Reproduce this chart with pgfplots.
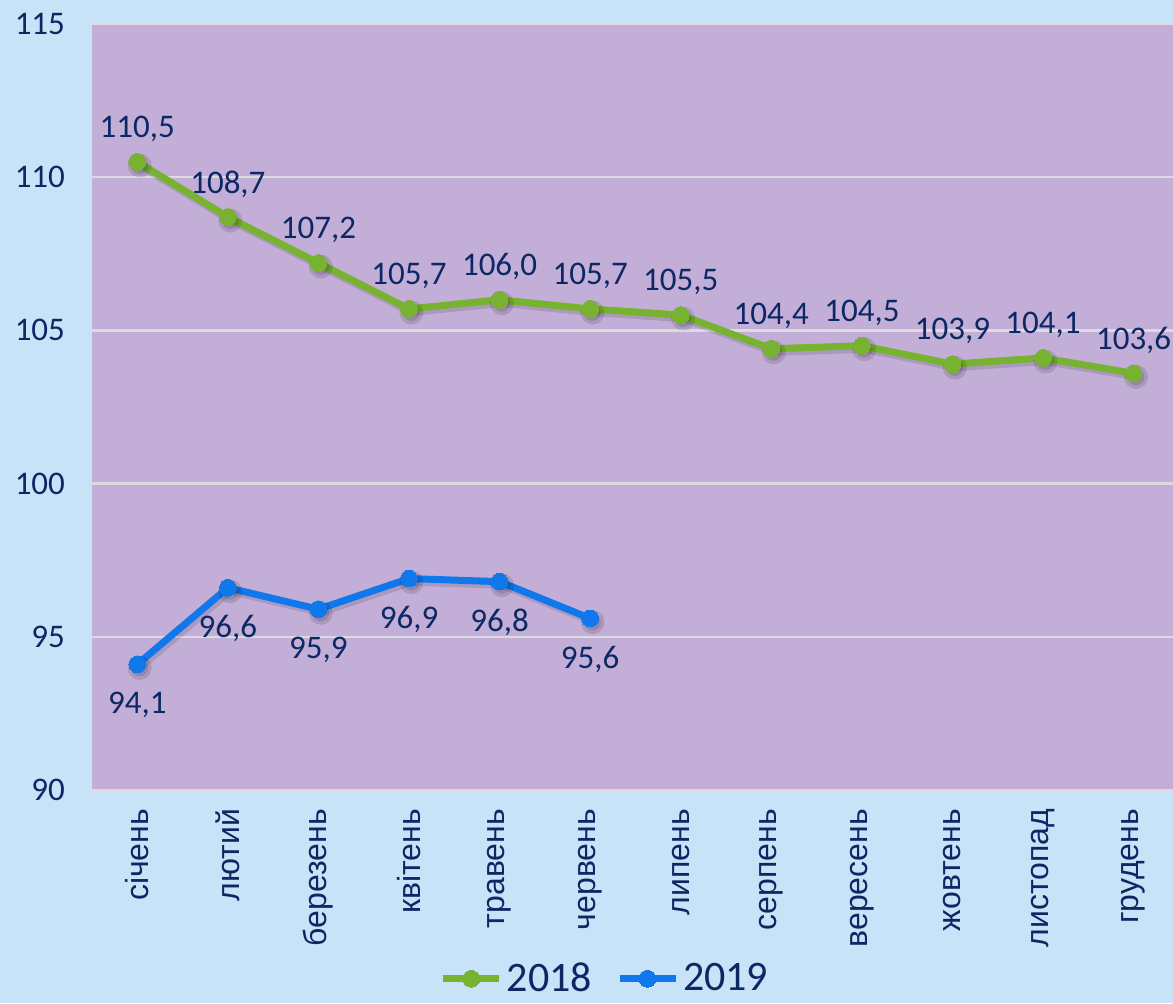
\documentclass[border=0pt]{standalone}
\usepackage{pgfplots}
\pgfplotsset{compat=1.18}
\usepackage{fontspec}
\setmainfont{Carlito}
\newfontfamily\xfont{Liberation Sans}
\definecolor{bgblue}{RGB}{200,226,248}
\definecolor{plotbg}{RGB}{195,174,216}
\definecolor{gr}{RGB}{119,179,48}
\definecolor{bl}{RGB}{16,120,235}
\definecolor{navy}{RGB}{12,40,100}
\definecolor{gridc}{RGB}{220,220,222}
\begin{document}
\begin{tikzpicture}
\fill[bgblue] (0,0) rectangle (586.5pt,501.5pt);
\useasboundingbox (0,0) rectangle (586.5pt,501.5pt);
\begin{axis}[
  at={(46pt,106.5pt)}, anchor=south west,
  scale only axis, width=540.5pt, height=383pt,
  xmin=-0.5, xmax=11.435, ymin=90, ymax=115,
  axis background/.style={fill=plotbg},
  axis line style={draw=none},
  ytick={90,95,100,105,110,115},
  ymajorgrids, major grid style={gridc, line width=1.2pt},
  xtick={0,...,11},
  xticklabels={січень,лютий,березень,квітень,травень,червень,липень,серпень,вересень,жовтень,листопад,грудень},
  x tick label style={rotate=90, anchor=east, font=\xfont\fontsize{16}{18}\selectfont, text=navy},
  y tick label style={font=\fontsize{16.5}{18}\selectfont, text=navy},
  xticklabel shift=6pt, yticklabel shift=10pt,
  major tick length=0pt,
  /pgf/number format/assume math mode=true,
  clip=false,
  nodes near coords={\pgfmathprintnumber[use comma,fixed,fixed zerofill,precision=1]{\pgfplotspointmeta}},
  nodes near coords style={font=\fontsize{16.5}{18}\selectfont, text=navy, anchor=center},
  legend style={at={(0.4755,-0.2465)}, anchor=center, draw=none, fill=none,
    legend columns=2, font=\fontsize{21}{22}\selectfont, text=navy, inner sep=1pt,
    /tikz/every even column/.append style={column sep=10pt}},
  legend image code/.code={\draw[#1, mark repeat=2, mark phase=2] plot coordinates {(0pt,0pt) (14pt,0pt) (28pt,0pt)};},
]
% shadows
\addplot[black, opacity=0.12, line width=3.5pt, mark=*, mark size=4.2pt, shift={(1.2pt,-1.8pt)}, nodes near coords={}, forget plot]
 coordinates {(0,110.5)(1,108.7)(2,107.2)(3,105.7)(4,106.0)(5,105.7)(6,105.5)(7,104.4)(8,104.5)(9,103.9)(10,104.1)(11,103.6)};
\addplot[black, opacity=0.12, line width=3.5pt, mark=*, mark size=4.2pt, shift={(1.2pt,-1.8pt)}, nodes near coords={}, forget plot]
 coordinates {(0,94.1)(1,96.6)(2,95.9)(3,96.9)(4,96.8)(5,95.6)};
\addplot[gr, line width=3.5pt, mark=*, mark size=4.2pt, mark options={fill=gr, draw=gr, line width=0pt},
  every node near coord/.append style={yshift=16.5pt}]
 coordinates {(0,110.5)(1,108.7)(2,107.2)(3,105.7)(4,106.0)(5,105.7)(6,105.5)(7,104.4)(8,104.5)(9,103.9)(10,104.1)(11,103.6)};
\addlegendentry{2018}
\addplot[bl, line width=3.5pt, mark=*, mark size=4.2pt, mark options={fill=bl, draw=bl, line width=0pt},
  every node near coord/.append style={yshift=-20.5pt}]
 coordinates {(0,94.1)(1,96.6)(2,95.9)(3,96.9)(4,96.8)(5,95.6)};
\addlegendentry{2019}
\end{axis}
\end{tikzpicture}
\end{document}
